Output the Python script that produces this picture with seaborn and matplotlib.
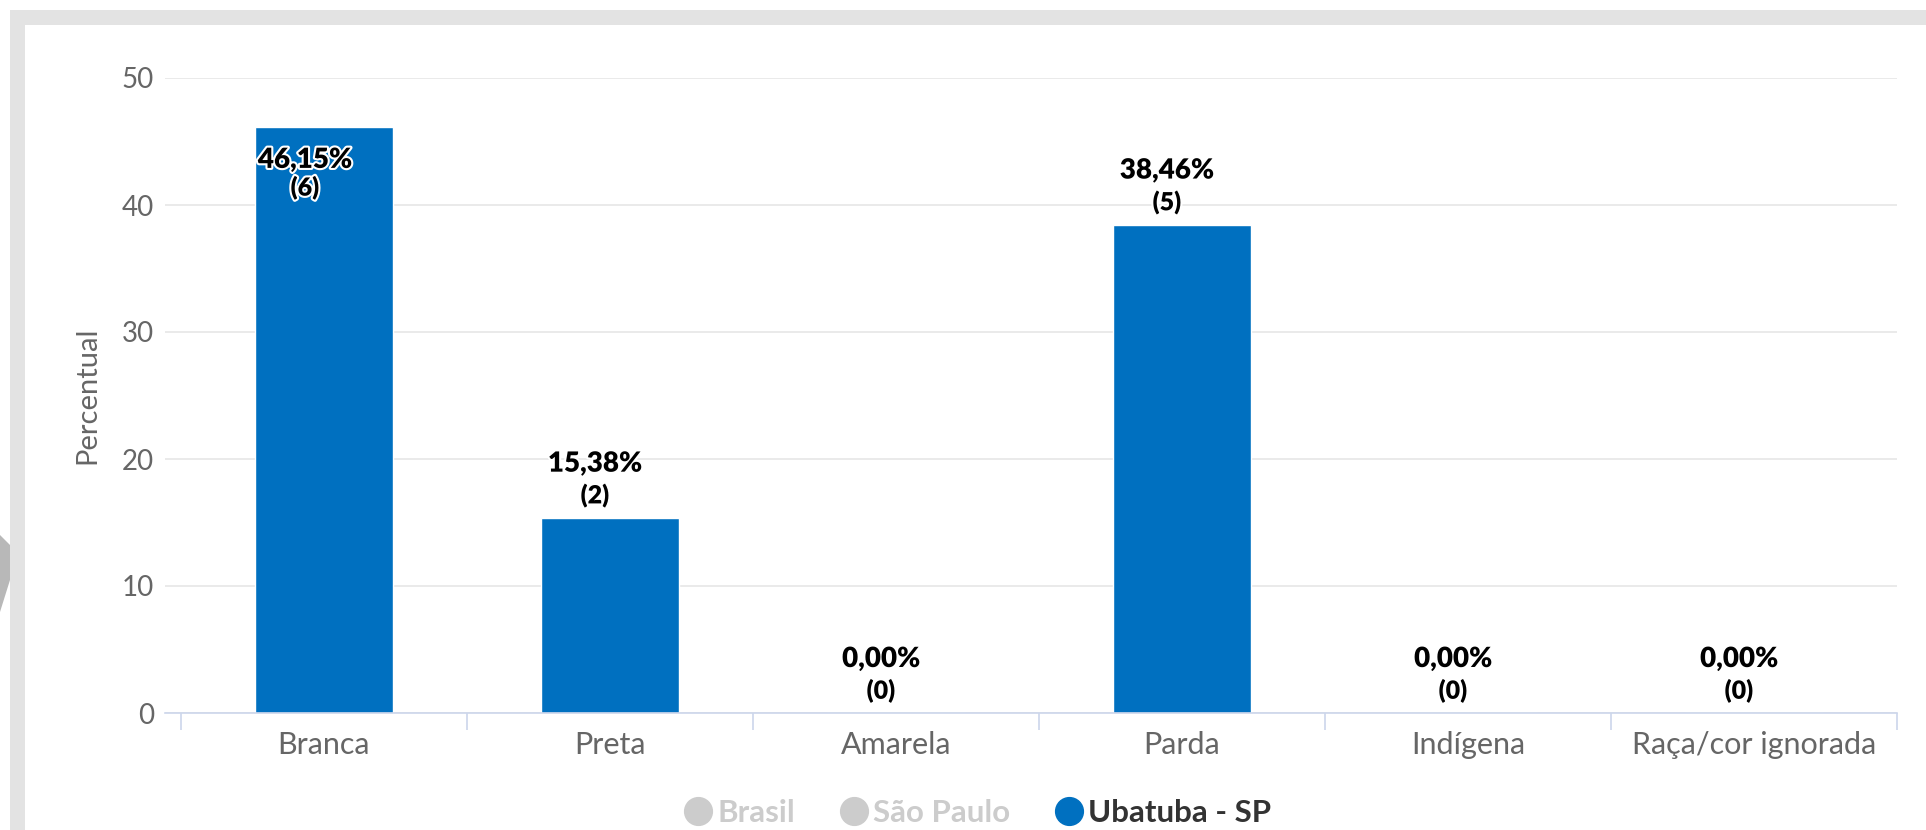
import matplotlib
matplotlib.use("Agg")
import matplotlib.pyplot as plt
import matplotlib.patheffects as pe
from matplotlib.patches import Rectangle, Polygon
from matplotlib.lines import Line2D
import seaborn as sns
import pandas as pd

categories = ["Branca", "Preta", "Amarela", "Parda", "Indígena", "Raça/cor ignorada"]
percent = [46.15, 15.38, 0.00, 38.46, 0.00, 0.00]
counts = [6, 2, 0, 5, 0, 0]
legend_labels = ["Brasil", "São Paulo", "Ubatuba - SP"]
yticks = [0, 10, 20, 30, 40, 50]

sns.set_theme(style="white")
plt.rcParams["font.family"] = ["Lato", "DejaVu Sans"]

W, H = 1926, 830
fig = plt.figure(figsize=(W / 100, H / 100), dpi=100)
fig.patch.set_facecolor("white")

# outer frame
fig.patches.append(Rectangle((10 / W, 0), 1, 1 - 10 / H, transform=fig.transFigure,
                             facecolor="#e3e3e3", edgecolor="none", zorder=-10))
fig.patches.append(Rectangle((25 / W, 0), 1, 1 - 25 / H, transform=fig.transFigure,
                             facecolor="white", edgecolor="none", zorder=-9))
fig.patches.append(Polygon([(0, 1 - 535 / H), (10 / W, 1 - 545 / H), (10 / W, 1 - 580 / H), (0, 1 - 612 / H)],
                           closed=True, transform=fig.transFigure, facecolor="#b8b8b8",
                           edgecolor="none", zorder=-9))

left, right = 165 / W, 1897 / W
bottom, top = 1 - 713 / H, 1 - 78 / H
ax = fig.add_axes([left, bottom, right - left, top - bottom])
ax.set_zorder(1)
ax.set_facecolor("none")

df = pd.DataFrame({"cat": categories, "pct": percent})
sns.barplot(data=df, x="cat", y="pct", color="#0070c0", saturation=1, width=0.48, ax=ax, zorder=3)

cat_w = 286.0
ax.set_xlim(-0.5 - 16 / cat_w, 5.5)
ax.set_ylim(0, 50)
ax.set_yticks(yticks)
ax.set_yticklabels([str(t) for t in yticks])
ax.grid(axis="y", color="#e6e6e6", linewidth=1.2, zorder=0)
ax.grid(axis="x", visible=False)
ax.set_axisbelow(True)
for s in ["top", "right", "left"]:
    ax.spines[s].set_visible(False)
ax.spines["bottom"].set_color("#ccd6eb")
ax.spines["bottom"].set_linewidth(1.2)
ax.spines["bottom"].set_zorder(4)

ax.set_xticks([i - 0.5 for i in range(len(categories) + 1)], minor=True)
ax.tick_params(axis="x", which="minor", bottom=True, length=12, width=1.2, color="#ccd6eb", direction="out")
ax.tick_params(axis="x", which="major", length=0, pad=13, labelsize=22, labelcolor="#666666")
ax.tick_params(axis="y", length=0, pad=8, labelsize=20, labelcolor="#666666")
ax.set_xlabel("")
ax.set_ylabel("Percentual", fontsize=21, color="#666666")
ax.yaxis.set_label_coords((100 - 165) / (1897 - 165), 0.5)

stroke = [pe.withStroke(linewidth=3, foreground="white")]
for i, (p, c) in enumerate(zip(percent, counts)):
    txt1 = f"{p:.2f}".replace(".", ",") + "%"
    txt2 = f"({c})"
    if p > 45:
        o1, o2, dx = -33 * 0.72, -61 * 0.72, -19 * 0.72
    else:
        o1, o2, dx = 54 * 0.72, 22 * 0.72, -15 * 0.72
    ax.annotate(txt1, (i, p), xytext=(dx, o1), textcoords="offset points", ha="center", va="center",
                fontsize=20, fontweight="heavy", color="black", path_effects=stroke, zorder=5)
    ax.annotate(txt2, (i, p), xytext=(dx, o2), textcoords="offset points", ha="center", va="center",
                fontsize=18, fontweight="heavy", color="black", path_effects=stroke, zorder=5)

handles = [Line2D([0], [0], marker="o", linestyle="none", markersize=20,
                  markerfacecolor=col, markeredgecolor=col)
           for col in ["#cccccc", "#cccccc", "#0070c0"]]
leg = fig.legend(handles, legend_labels, loc="center", bbox_to_anchor=(977 / W, 1 - 813 / H),
                 ncol=3, frameon=False, handletextpad=0.1, columnspacing=1.4,
                 handlelength=1.0, prop={"size": 22.5, "weight": "bold"})
for t, col in zip(leg.get_texts(), ["#cccccc", "#cccccc", "#333333"]):
    t.set_color(col)

fig.savefig("out.png", dpi=100, facecolor="white")
